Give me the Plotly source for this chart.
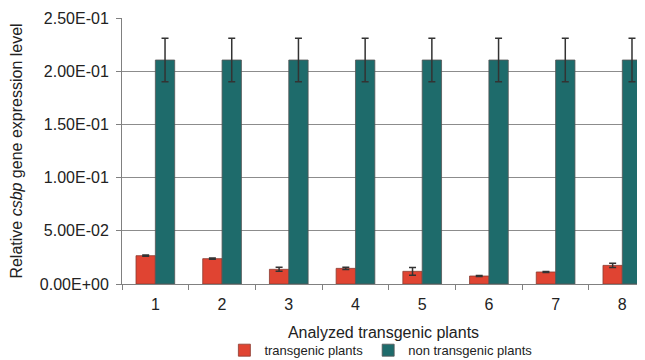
import plotly.graph_objects as go

categories = ["1", "2", "3", "4", "5", "6", "7", "8"]
transgenic = [0.0266, 0.0238, 0.0138, 0.0147, 0.0119, 0.0075, 0.0113, 0.0175]
transgenic_err = [0.0006, 0.0006, 0.0019, 0.0010, 0.0036, 0.0005, 0.0004, 0.0019]
non_transgenic = [0.2105] * 8
non_transgenic_err = [0.0205] * 8
y_tickvals = [0, 0.05, 0.10, 0.15, 0.20, 0.25]
y_ticktext = ["0.00E+00", "5.00E-02", "1.00E-01", "1.50E-01", "2.00E-01", "2.50E-01"]

fig = go.Figure()
fig.add_trace(go.Bar(
    x=categories, y=transgenic, name="transgenic plants",
    marker=dict(color="#E04432", line=dict(color="#8a3b30", width=0.8)),
    error_y=dict(type="data", array=transgenic_err, color="#333333", thickness=1.5, width=3.5),
))
fig.add_trace(go.Bar(
    x=categories, y=non_transgenic, name="non transgenic plants",
    marker=dict(color="#1E6B6B", line=dict(color="#555555", width=0.8)),
    error_y=dict(type="data", array=non_transgenic_err, color="#333333", thickness=1.5, width=3.5),
))

font = "Liberation Sans, Arial, sans-serif"
# the page body adds an 8px offset; margins compensate for it
fig.update_layout(
    width=645, height=360,
    margin=dict(l=114, r=8, t=10, b=84, autoexpand=False),
    paper_bgcolor="white", plot_bgcolor="white",
    barmode="group", bargap=0.42, bargroupgap=0,
    font=dict(family=font, size=16, color="#222222"),
    showlegend=True,
    legend=dict(orientation="h", x=0.495, xanchor="center", y=-0.249, yanchor="middle",
                font=dict(size=13, color="#222222"), traceorder="normal",
                itemwidth=30, tracegroupgap=0),
    xaxis=dict(
        type="category", range=[-0.5, 7.34], automargin=False,
        showline=True, linecolor="#808080", linewidth=1,
        ticks="outside", tickson="boundaries", ticklen=5, tickcolor="#808080",
        ticklabelstandoff=6,
        tickfont=dict(size=16, color="#222222"),
        title=dict(text="Analyzed transgenic plants", font=dict(size=16, color="#222222"), standoff=14),
        showgrid=False,
    ),
    yaxis=dict(
        range=[0, 0.25], tickvals=y_tickvals, ticktext=y_ticktext, automargin=False,
        showline=True, linecolor="#808080", linewidth=1,
        ticks="outside", ticklen=5, tickcolor="#808080",
        ticklabelstandoff=4,
        showgrid=True, gridcolor="#8c8c8c", gridwidth=1,
        tickfont=dict(size=16, color="#222222"),
        title=dict(text="Relative <i>csbp</i> gene expression level", font=dict(size=16, color="#222222"), standoff=16),
        zeroline=False,
    ),
)

fig.write_html("out.html")
